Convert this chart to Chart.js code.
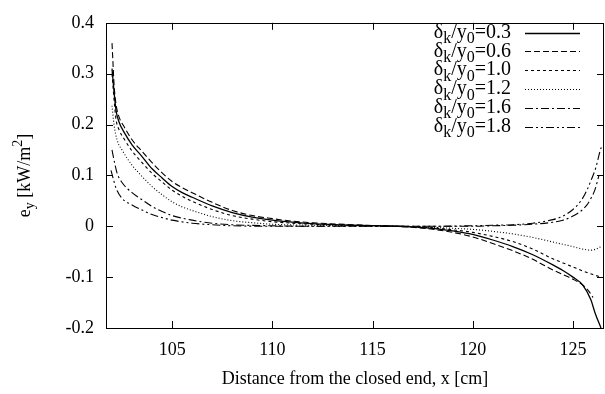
<!DOCTYPE html>
<html>
<head>
<meta charset="utf-8">
<script src="https://cdn.jsdelivr.net/npm/chart.js@4/dist/chart.umd.min.js"></script>
<style>
html,body{margin:0;padding:0;background:#fff;}
#wrap{width:605px;height:394px;position:relative;}
</style>
</head>
<body>
<div id="wrap"><canvas id="c" width="605" height="394"></canvas></div>
<script>
// ---- data ----
const xTickValues = [105, 110, 115, 120, 125];
const yTickValues = [-0.2, -0.1, 0, 0.1, 0.2, 0.3, 0.4];
const seriesRatios = ['0.3', '0.6', '1.0', '1.2', '1.6', '1.8'];

const x03 = [102.0,102.1,102.2,102.35,102.6,103,103.5,104,104.5,105,105.5,106,107,108,109,110,111,112,114,116,117,118,119,120,121,122,123,124,124.5,125,125.5,125.9,126.1,126.4];
const y03 = [0.31,0.265,0.228,0.205,0.185,0.16,0.137,0.113,0.095,0.078,0.066,0.057,0.04,0.027,0.018,0.012,0.008,0.005,0.002,0.0005,-0.001,-0.004,-0.009,-0.016,-0.027,-0.04,-0.056,-0.076,-0.087,-0.1,-0.116,-0.145,-0.17,-0.2];

const x06 = [102.0,102.05,102.1,102.2,102.35,102.6,103,103.5,104,104.5,105,105.5,106,107,108,109,110,111,112,114,116,117,118,119,120,121,122,123,124,124.5,125,125.5,125.8,126.0];
const y06 = [0.36,0.32,0.28,0.24,0.215,0.196,0.17,0.147,0.125,0.105,0.088,0.076,0.066,0.047,0.031,0.021,0.015,0.01,0.007,0.003,0.0,-0.002,-0.006,-0.012,-0.021,-0.034,-0.048,-0.065,-0.086,-0.095,-0.104,-0.116,-0.128,-0.14];

const x10 = [102.0,102.1,102.2,102.35,102.6,103,103.5,104,104.5,105,105.5,106,107,108,109,110,112,114,116,117,118,119,120,121,122,123,124,124.5,125,125.5,126,126.4];
const y10 = [0.3,0.25,0.21,0.19,0.172,0.148,0.125,0.104,0.087,0.071,0.059,0.049,0.033,0.021,0.014,0.009,0.004,0.0015,0,-0.001,-0.003,-0.007,-0.012,-0.02,-0.03,-0.045,-0.064,-0.072,-0.08,-0.088,-0.095,-0.1];

const x12 = [102.0,102.1,102.25,102.5,103,103.5,104,104.5,105,105.5,106,107,108,109,110,112,114,116,118,119,120,121,122,123,124,125,125.5,125.9,126.2,126.4];
const y12 = [0.237,0.2,0.17,0.15,0.12,0.098,0.078,0.062,0.048,0.038,0.031,0.019,0.011,0.007,0.004,0.002,0.001,0,-0.002,-0.004,-0.006,-0.01,-0.015,-0.022,-0.031,-0.04,-0.045,-0.047,-0.044,-0.04];

const x16 = [102.0,102.1,102.25,102.5,103,103.5,104,104.5,105,106,107,108,110,112,120,121,122,123,124,124.5,125,125.4,125.7,125.9,126.1,126.3];
const y16 = [0.15,0.13,0.105,0.086,0.066,0.052,0.039,0.029,0.021,0.012,0.006,0.003,0.001,0,0,0.001,0.002,0.004,0.008,0.012,0.02,0.03,0.042,0.055,0.072,0.1];

const x18 = [101.95,102.05,102.2,102.5,103,103.5,104,104.5,105,106,107,108,110,118,120,121,122,123,124,124.5,125,125.4,125.7,125.9,126.15,126.3,126.45];
const y18 = [0.11,0.095,0.075,0.055,0.042,0.032,0.023,0.017,0.012,0.006,0.003,0.001,0,0,0.001,0.002,0.003,0.006,0.013,0.02,0.033,0.05,0.071,0.09,0.116,0.14,0.16];

const seriesX = [x03, x06, x10, x12, x16, x18];
const seriesY = [y03, y06, y10, y12, y16, y18];
const dashes = [[], [6,3], [3,3], [1,2], [8,3,2,3], [8,3,2,3,2,3]];

const FONT = "'Liberation Serif', 'DejaVu Serif', serif";

const datasets = seriesRatios.map((r, i) => ({
  label: 'δk/y0=' + r,
  data: seriesX[i].map((x, j) => ({x: x, y: seriesY[i][j]})),
  borderColor: '#000',
  backgroundColor: '#000',
  borderWidth: i === 0 ? 1.3 : 1.1,
  borderDash: dashes[i],
  pointRadius: 0,
  fill: false,
  cubicInterpolationMode: 'monotone'
}));

function drawParts(ctx, parts, x, y, size) {
  let cx = x;
  parts.forEach(p => {
    const small = p[1] !== 'n';
    ctx.font = (small ? Math.round(size * 0.78) : size) + 'px ' + FONT;
    const dy = p[1] === 'sub' ? size * 0.32 : (p[1] === 'sup' ? -size * 0.38 : 0);
    ctx.fillText(p[0], cx, y + dy);
    cx += ctx.measureText(p[0]).width;
  });
  return cx - x;
}
function measureParts(ctx, parts, size) {
  let w = 0;
  parts.forEach(p => {
    const small = p[1] !== 'n';
    ctx.font = (small ? Math.round(size * 0.78) : size) + 'px ' + FONT;
    w += ctx.measureText(p[0]).width;
  });
  return w;
}

const framePlugin = {
  id: 'frame',
  afterDraw(chart) {
    const ctx = chart.ctx;
    const a = chart.chartArea;
    const xs = chart.scales.x, ys = chart.scales.y;
    ctx.save();
    ctx.strokeStyle = '#000';
    ctx.lineWidth = 1;
    ctx.setLineDash([]);
    ctx.strokeRect(Math.round(a.left) + 0.5, Math.round(a.top) + 0.5, Math.round(a.right - a.left) - 1, Math.round(a.bottom - a.top));
    const L = 7;
    ctx.beginPath();
    xTickValues.forEach(v => {
      const px = Math.round(xs.getPixelForValue(v)) + 0.5;
      ctx.moveTo(px, a.bottom); ctx.lineTo(px, a.bottom - L);
      ctx.moveTo(px, a.top); ctx.lineTo(px, a.top + L);
    });
    yTickValues.forEach(v => {
      const py = Math.round(ys.getPixelForValue(v)) + 0.5;
      ctx.moveTo(a.left, py); ctx.lineTo(a.left + L, py);
      ctx.moveTo(a.right, py); ctx.lineTo(a.right - L, py);
    });
    ctx.stroke();

    // legend
    ctx.fillStyle = '#000';
    ctx.textBaseline = 'middle';
    ctx.textAlign = 'left';
    const size = 20;
    chart.data.datasets.forEach((ds, i) => {
      const yRow = 32.5 + i * 18.8;
      const parts = [['δ','n'],['k','sub'],['/y','n'],['0','sub'],['=' + seriesRatios[i],'n']];
      const w = measureParts(ctx, parts, size);
      drawParts(ctx, parts, 511 - w, yRow, size);
      ctx.beginPath();
      ctx.setLineDash(ds.borderDash);
      ctx.lineWidth = ds.borderWidth;
      ctx.moveTo(525, Math.round(yRow) + 0.5);
      ctx.lineTo(580, Math.round(yRow) + 0.5);
      ctx.stroke();
    });
    ctx.setLineDash([]);

    // y axis title (rotated)
    ctx.save();
    ctx.translate(25, (a.top + a.bottom) / 2);
    ctx.rotate(-Math.PI / 2);
    const tparts = [['e','n'],['y','sub'],[' [kW/m','n'],['2','sup'],[']','n']];
    const tw = measureParts(ctx, tparts, 18);
    drawParts(ctx, tparts, -tw / 2, 0, 18);
    ctx.restore();
    ctx.restore();
  }
};

new Chart(document.getElementById('c'), {
  type: 'line',
  data: { datasets: datasets },
  options: {
    responsive: false,
    animation: false,
    devicePixelRatio: 1,
    layout: { padding: { left: 0, right: 1, top: 14, bottom: 0 } },
    plugins: { legend: { display: false }, tooltip: { enabled: false } },
    scales: {
      x: {
        type: 'linear',
        min: 101.7,
        max: 126.55,
        afterBuildTicks: s => { s.ticks = xTickValues.map(v => ({value: v})); },
        afterFit: s => { s.height = 66; },
        grid: { display: true, drawOnChartArea: false, drawTicks: false, color: 'rgba(0,0,0,0)' },
        border: { display: false },
        ticks: { color: '#000', font: { family: FONT, size: 18 }, padding: 11, maxRotation: 0, autoSkip: false,
                 callback: v => String(v) },
        title: { display: true, text: 'Distance from the closed end, x [cm]', color: '#000',
                 font: { family: FONT, size: 18 }, padding: { top: 0, bottom: 4 } }
      },
      y: {
        type: 'linear',
        min: -0.2,
        max: 0.4,
        afterBuildTicks: s => { s.ticks = yTickValues.map(v => ({value: v})); },
        afterFit: s => { s.width = 106; },
        grid: { display: true, drawOnChartArea: false, drawTicks: false, color: 'rgba(0,0,0,0)' },
        border: { display: false },
        ticks: { color: '#000', font: { family: FONT, size: 18 }, padding: 12, autoSkip: false,
                 callback: v => String(parseFloat(Number(v).toFixed(1))) }
      }
    }
  },
  plugins: [framePlugin]
});
</script>
</body>
</html>
